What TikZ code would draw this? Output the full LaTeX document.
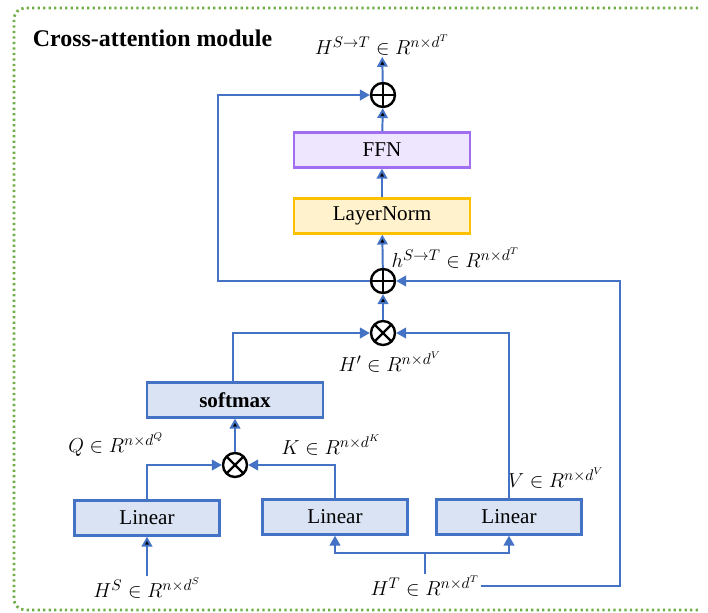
\documentclass[tikz,border=0pt]{standalone}
\usepackage{fontspec}
\setmainfont{Liberation Serif}
\usetikzlibrary{arrows.meta}

\definecolor{lineblue}{HTML}{4472C4}
\definecolor{boxblue}{HTML}{DAE3F3}
\definecolor{ffnline}{HTML}{A06EF0}
\definecolor{ffnfill}{HTML}{EEE6FF}
\definecolor{lnline}{HTML}{FFC000}
\definecolor{lnfill}{HTML}{FFF2CC}
\definecolor{framegreen}{HTML}{70AD47}

\begin{document}
\begin{tikzpicture}[x=0.025cm,y=-0.025cm,
    blkbox/.style={draw=lineblue, fill=boxblue, line width=1.8pt,
      minimum width=3.62cm, minimum height=0.87cm, inner sep=0pt,
      font=\fontsize{15}{18}\selectfont},
    ffnbox/.style={blkbox, draw=ffnline, fill=ffnfill, minimum width=4.4cm},
    normbox/.style={blkbox, draw=lnline, fill=lnfill, minimum width=4.4cm},
    addop/.style={circle, draw, line width=1.7pt, minimum size=0.6cm, inner sep=0pt,
      path picture={\draw[line width=1.7pt]
        (path picture bounding box.north) -- (path picture bounding box.south)
        (path picture bounding box.west) -- (path picture bounding box.east);}},
    mulop/.style={addop, path picture={\draw[line width=1.7pt]
        (path picture bounding box.north west) -- (path picture bounding box.south east)
        (path picture bounding box.north east) -- (path picture bounding box.south west);}},
    lbl/.style={inner sep=1pt, font=\fontsize{15}{18}\selectfont},
    arr/.style={draw=lineblue, line width=1.4pt, -{Triangle[width=7.5pt,length=7pt]}},
    wire/.style={draw=lineblue, line width=1.4pt}]
  \useasboundingbox (0,0) rectangle (708,612);
  % dotted frame of the module, open on the right
  \begin{scope}
    \clip (0,0) rectangle (700,612);
    \draw[framegreen, line width=2pt, dash pattern=on 1.6pt off 2.3pt,
          rounded corners=8pt] (720,8) -- (14,8) -- (14,610) -- (720,610);
  \end{scope}
  \node (ttl) [anchor=west, font=\fontsize{17}{20}\selectfont\bfseries] at (28,38) {Cross-attention module};

  % upper part
  \node (out) [lbl] at (382,45) {$H^{S\to T}\in R^{n\times d^T}$};
  \node (add2) [addop] at (383,95) {};
  \node (ffn) [ffnbox] at (382,150) {FFN};
  \node (ln) [normbox, below of=ffn, node distance=1.65cm] {LayerNorm};
  \node (add1) [addop] at (383,281) {};
  \node (hst) [lbl, anchor=west] at (390,258) {$h^{S\to T}\in R^{n\times d^T}$};
  \node (mul2) [mulop, below of=add1, node distance=1.3cm] {};
  \node (hp) [lbl] at (390,362) {$H'\in R^{n\times d^V}$};

  % attention part
  \node (sm) [blkbox, minimum width=4.4cm, minimum height=0.87cm,
              font=\fontsize{15}{18}\selectfont\bfseries] at (235,400) {softmax};
  \node (mul1) [mulop] at (235,465) {};
  \node (q) [lbl] at (116,445) {$Q\in R^{n\times d^Q}$};
  \node (k) [lbl] at (331,445) {$K\in R^{n\times d^K}$};
  \node (v) [lbl] at (556,478) {$V\in R^{n\times d^V}$};
  \node (lq) [blkbox] at (147,518) {Linear};
  \node (lk) [blkbox] at (335,517) {Linear};
  \node (lv) [blkbox] at (509,517) {Linear};
  \node (hs) [lbl] at (147,588) {$H^S\in R^{n\times d^S}$};
  \node (ht) [lbl] at (425,586) {$H^T\in R^{n\times d^T}$};

  \coordinate (skip) at (218,281);
  \coordinate (back) at (620,281);
  \coordinate (split) at (425,553);

  \path[arr] (add2) edge (out)
             (ffn) edge (add2)
             (ln) edge (ffn)
             (add1) edge (ln)
             (mul2) edge (add1)
             (mul1) edge (sm)
             (hs) edge (lq)
             ;
  \draw[arr] (add1.west) -- (skip) |- (add2);
  \draw[arr] (ht.east) -| (back) -- (add1);
  \draw[arr] (sm.north -| 233,0) |- (mul2);
  \draw[arr] (lv) |- (mul2);
  \draw[arr] (lq) |- (mul1);
  \draw[arr] (lk) |- (mul1);
  \draw[wire] (ht) -- (split);
  \draw[arr] (split) -| (lk);
  \draw[arr] (split) -| (lv);
\end{tikzpicture}
\end{document}
